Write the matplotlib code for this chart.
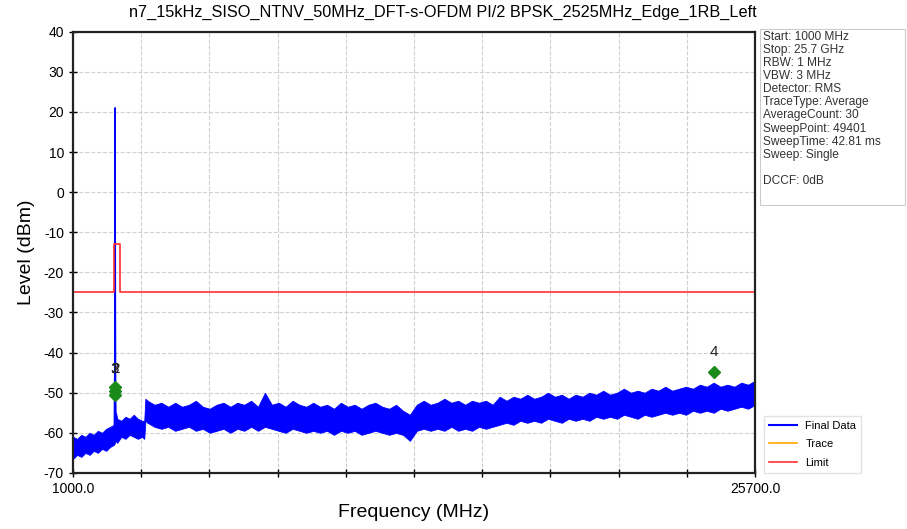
import matplotlib
matplotlib.use("Agg")
import matplotlib.pyplot as plt
from matplotlib.lines import Line2D
from matplotlib.patches import Rectangle

plt.rcParams['font.family'] = ['Liberation Sans', 'DejaVu Sans']

title = "n7_15kHz_SISO_NTNV_50MHz_DFT-s-OFDM PI/2 BPSK_2525MHz_Edge_1RB_Left"

# Noise floor envelope of "Final Data" below / around the carrier (MHz, dBm)
low_band_freq = [1000, 1150, 1300, 1450, 1600, 1750, 1900, 2050, 2200, 2350, 2480,
                 2560, 2600, 2750, 2900, 3050, 3200, 3350, 3500, 3580, 3620, 3700]
low_band_min = [-66.5, -65.5, -66.0, -65.0, -65.5, -64.5, -65.0, -64.0, -64.5, -63.5, -63.0,
                -62.0, -62.5, -61.0, -61.5, -60.5, -61.0, -61.5, -61.0, -61.5, -57.0, -57.5]
low_band_max = [-61.0, -61.5, -60.5, -61.0, -60.0, -60.5, -59.5, -60.0, -59.0, -58.5, -58.0,
                -55.0, -56.5, -57.0, -56.0, -56.5, -55.5, -56.5, -57.0, -57.0, -51.5, -52.0]

# Noise floor envelope above 3.7 GHz, sampled every 250 MHz
high_band_freq = list(range(3700, 25701, 250))
high_band_max = [-52.0, -53.0, -52.5, -53.5, -52.5, -53.5, -53.0, -52.0, -53.5, -54.0,
                 -53.0, -52.5, -53.5, -52.5, -53.0, -52.0, -53.5, -50.0, -53.0, -52.5,
                 -53.5, -52.0, -53.0, -53.5, -52.5, -53.5, -53.0, -54.0, -52.5, -53.5,
                 -53.0, -54.0, -53.0, -52.5, -53.5, -54.0, -53.0, -54.5, -55.5, -53.0,
                 -52.0, -53.0, -52.5, -51.5, -52.5, -52.0, -53.0, -52.0, -52.5, -52.0,
                 -53.0, -51.0, -52.0, -51.0, -51.5, -50.5, -51.5, -51.0, -50.0, -51.0,
                 -50.5, -51.5, -50.5, -51.0, -50.0, -50.5, -49.5, -50.5, -50.0, -49.0,
                 -50.0, -49.5, -50.0, -49.0, -49.5, -48.5, -49.5, -49.0, -48.5, -49.0,
                 -48.0, -48.5, -47.5, -48.5, -48.0, -48.5, -47.5, -48.0, -47.0]
high_band_min = [-57.5, -58.5, -59.0, -58.5, -59.5, -59.0, -58.5, -59.5, -59.0, -60.0,
                 -59.5, -59.0, -60.0, -59.0, -59.5, -58.5, -59.5, -58.5, -59.0, -59.5,
                 -60.0, -59.0, -59.5, -60.0, -59.5, -60.0, -59.5, -60.5, -59.5, -60.0,
                 -59.5, -60.5, -60.0, -59.5, -60.0, -60.5, -60.0, -60.5, -62.0, -59.5,
                 -59.0, -59.5, -59.0, -59.5, -58.5, -59.5, -59.0, -59.5, -58.5, -59.0,
                 -58.5, -58.0, -57.5, -58.0, -57.0, -57.5, -57.0, -57.5, -56.5, -57.0,
                 -57.5, -56.5, -57.0, -56.5, -57.0, -56.0, -56.5, -56.0, -56.5, -55.5,
                 -56.0, -56.5, -55.5, -56.0, -55.5, -55.0, -55.5, -55.0, -55.5, -54.5,
                 -55.0, -54.5, -55.0, -54.0, -54.5, -54.0, -53.5, -54.0, -53.0]

# Carrier spike (MHz, dBm)
spike_freq = [2500, 2512, 2518, 2523, 2525, 2527, 2532, 2540, 2560]
spike_level = [-58.0, -45.0, -29.0, -10.0, 21.0, -10.0, -29.0, -50.0, -62.0]

# Limit line
limit_freq = [1000, 2500, 2500, 2690, 2690, 25700]
limit_level = [-25, -25, -13, -13, -25, -25]

# Markers
marker_labels = ["1", "2", "3", "4"]
marker_freq = [2525, 2525, 2525, 24200]
marker_level = [-49.5, -50.5, -48.5, -44.8]
marker_text_level = [-45.8, -45.8, -45.8, -41.5]

info_lines = ["Start: 1000 MHz", "Stop: 25.7 GHz", "RBW: 1 MHz", "VBW: 3 MHz",
              "Detector: RMS", "TraceType: Average", "AverageCount: 30",
              "SweepPoint: 49401", "SweepTime: 42.81 ms", "Sweep: Single", "",
              "DCCF: 0dB"]

x_ticks = [1000 + k * 2470 for k in range(11)]
x_ticklabels = ["1000.0"] + [""] * 9 + ["25700.0"]
y_ticks = list(range(-70, 41, 10))

fig = plt.figure(figsize=(9.07, 5.29), dpi=100)
ax = fig.add_axes([0.0805, 0.106, 0.752, 0.834])
ax.set_axisbelow(True)

ax.fill_between(low_band_freq, low_band_min, low_band_max, color='blue',
                linewidth=0.6, edgecolor='blue')
ax.fill_between(high_band_freq, high_band_min, high_band_max, color='blue',
                linewidth=0.6, edgecolor='blue')
ax.plot(spike_freq, spike_level, color='blue', linewidth=1.2)
ax.plot(limit_freq, limit_level, color='#ff3030', linewidth=1.2)

for lab, f, v, tv in zip(marker_labels, marker_freq, marker_level, marker_text_level):
    ax.plot(f, v, marker='D', color='#1a8a1a', markersize=6, zorder=5)
    ax.text(f, tv, lab, ha='center', va='bottom', fontsize=11,
            color='#222222', zorder=6)

ax.set_xlim(1000, 25700)
ax.set_ylim(-70, 40)
ax.set_xticks(x_ticks)
ax.set_xticklabels(x_ticklabels, fontsize=10)
ax.set_yticks(y_ticks)
ax.set_yticklabels([str(v) for v in y_ticks], fontsize=10)
ax.tick_params(direction='inout', length=6, width=1)
ax.grid(True, color='#d0d0d0', linestyle='--', linewidth=0.8)
for s in ax.spines.values():
    s.set_linewidth(1.6)
    s.set_color('#222222')

fig.text(0.488, 0.977, title, fontsize=11.7, ha='center', va='center')
ax.set_xlabel("Frequency (MHz)", fontsize=14, labelpad=6)
ax.set_ylabel("Level (dBm)", fontsize=14, labelpad=6)

fig.patches.append(Rectangle((760 / 907, 1 - 205 / 529), 145 / 907, 176 / 529,
                             transform=fig.transFigure, facecolor='white',
                             edgecolor='#cccccc', linewidth=0.8))
fig.text(763 / 907, 1 - 31 / 529, "\n".join(info_lines), fontsize=8.6,
         va='top', ha='left', linespacing=1.12, color='#333333')

handles = [Line2D([], [], color='blue', linewidth=1.5),
           Line2D([], [], color='orange', linewidth=1.2),
           Line2D([], [], color='#ff3030', linewidth=1.2)]
fig.legend(handles, ["Final Data", "Trace", "Limit"], loc='lower left',
           bbox_to_anchor=(0.836, 0.096), fontsize=8, frameon=True,
           fancybox=False, edgecolor='#dddddd', handlelength=2.5,
           labelspacing=0.75, borderpad=0.45)

fig.savefig("out.png", dpi=100)
